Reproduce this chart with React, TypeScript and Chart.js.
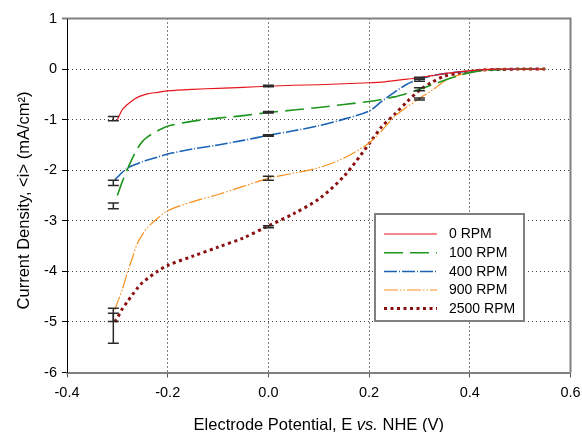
import React, { useEffect, useRef } from "react";
import { Chart, registerables } from "chart.js";
Chart.register(...registerables);

// Electrode potential (V vs. NHE)
const potential = [-0.305, -0.3, -0.29, -0.28, -0.27, -0.26, -0.25, -0.24, -0.22, -0.2, -0.15, -0.1, -0.05, 0, 0.05, 0.1, 0.15, 0.2, 0.225, 0.25, 0.275, 0.3, 0.325, 0.35, 0.375, 0.4, 0.425, 0.45, 0.5, 0.55];

// Current density (mA/cm2)
const rpm0 = [null, -1.0, -0.8, -0.7, -0.62, -0.56, -0.52, -0.49, -0.46, -0.43, -0.4, -0.38, -0.36, -0.34, -0.32, -0.31, -0.29, -0.27, -0.26, -0.23, -0.2, -0.17, -0.13, -0.09, -0.06, -0.03, -0.01, 0, 0, 0];
const rpm100 = [null, -2.5, -2.22, -1.98, -1.76, -1.57, -1.43, -1.34, -1.22, -1.13, -1.03, -0.97, -0.92, -0.86, -0.81, -0.76, -0.7, -0.64, -0.6, -0.55, -0.48, -0.4, -0.31, -0.22, -0.14, -0.07, -0.03, -0.01, 0, 0];
const rpm400 = [-2.19, -2.14, -2.04, -1.96, -1.91, -1.87, -1.83, -1.8, -1.74, -1.68, -1.58, -1.5, -1.41, -1.31, -1.22, -1.12, -0.99, -0.83, -0.64, -0.46, -0.3, -0.2, -0.13, -0.09, -0.06, -0.04, -0.02, -0.01, 0, 0];
const rpm900 = [-4.76, -4.62, -4.35, -4.02, -3.73, -3.44, -3.27, -3.13, -2.95, -2.8, -2.62, -2.48, -2.32, -2.16, -2.06, -1.95, -1.76, -1.46, -1.22, -0.94, -0.75, -0.58, -0.42, -0.24, -0.13, -0.07, -0.03, -0.01, 0, 0];
const rpm2500 = [-5.0, -4.92, -4.74, -4.6, -4.46, -4.33, -4.22, -4.14, -4.0, -3.88, -3.7, -3.52, -3.34, -3.1, -2.86, -2.57, -2.12, -1.48, -1.14, -0.9, -0.65, -0.42, -0.26, -0.14, -0.09, -0.05, -0.02, -0.01, 0, 0];

const seriesLabels = ["0 RPM", "100 RPM", "400 RPM", "900 RPM", "2500 RPM"];

// Error bars
const errPotential = [-0.308, -0.308, -0.308, -0.308, -0.308, 0, 0, 0, 0, 0, 0.3, 0.3, 0.3, 0.3];
const errHigh = [-0.94, -2.2, -2.65, -4.73, -4.83, -0.32, -0.84, -1.3, -2.12, -3.1, -0.16, -0.2, -0.37, -0.57];
const errLow = [-1.02, -2.3, -2.76, -4.99, -5.42, -0.35, -0.87, -1.33, -2.2, -3.14, -0.2, -0.24, -0.43, -0.61];

const FONT = "'Liberation Sans', Arial, Helvetica, sans-serif";

const styles = [
  { color: "#e8151b", width: 1.2, dash: [] as number[] },
  { color: "#1e961e", width: 1.6, dash: [19, 7] },
  { color: "#1a62b8", width: 1.6, dash: [13, 2, 1, 2] },
  { color: "#f7901e", width: 1.2, dash: [14, 2, 1.5, 2, 1.5, 2] },
  { color: "#8b0f0f", width: 3, dash: [3, 3.5] },
];

const allSeries = [rpm0, rpm100, rpm400, rpm900, rpm2500];

const decor = {
  id: "decor",
  afterDatasetsDraw(chart: any) {
    const { ctx, scales } = chart;
    const xs = scales.x, ys = scales.y;
    ctx.save();
    ctx.strokeStyle = "#2a2a2a";
    ctx.lineWidth = 1.5;
    ctx.setLineDash([]);
    for (let i = 0; i < errPotential.length; i++) {
      const px = xs.getPixelForValue(errPotential[i]);
      const y1 = ys.getPixelForValue(errHigh[i]);
      const y2 = ys.getPixelForValue(errLow[i]);
      ctx.beginPath();
      ctx.moveTo(px, y1);
      ctx.lineTo(px, y2);
      ctx.moveTo(px - 5.5, y1);
      ctx.lineTo(px + 5.5, y1);
      ctx.moveTo(px - 5.5, y2);
      ctx.lineTo(px + 5.5, y2);
      ctx.stroke();
    }
    ctx.restore();
  },
  afterDraw(chart: any) {
    const { ctx, chartArea } = chart;
    const { left, right, top, bottom } = chartArea;
    ctx.save();
    // top & right frame
    ctx.strokeStyle = "#808080";
    ctx.lineWidth = 2;
    ctx.setLineDash([]);
    ctx.beginPath();
    ctx.moveTo(left - 5, top);
    ctx.lineTo(right, top);
    ctx.lineTo(right, bottom);
    ctx.stroke();
    // left axis redraw on top
    ctx.strokeStyle = "#000";
    ctx.lineWidth = 1;
    ctx.beginPath();
    ctx.moveTo(Math.round(left) + 0.5, top + 1);
    ctx.lineTo(Math.round(left) + 0.5, bottom);
    ctx.stroke();

    // legend
    const bx = 375, by = 214, bw = 149, bh = 107;
    ctx.fillStyle = "#fff";
    ctx.fillRect(bx, by, bw, bh);
    ctx.strokeStyle = "#808080";
    ctx.lineWidth = 2;
    ctx.strokeRect(bx, by, bw, bh);
    ctx.font = `14px ${FONT}`;
    ctx.textBaseline = "middle";
    ctx.textAlign = "left";
    const rowY = [234, 252.7, 271.5, 290, 308.5];
    chart.data.datasets.forEach((ds: any, i: number) => {
      const y = rowY[i];
      ctx.save();
      ctx.strokeStyle = ds.borderColor;
      ctx.lineWidth = ds.borderWidth;
      ctx.setLineDash(ds.borderDash || []);
      ctx.beginPath();
      ctx.moveTo(384, y);
      ctx.lineTo(437, y);
      ctx.stroke();
      ctx.restore();
      ctx.fillStyle = "#000";
      ctx.fillText(ds.label, 449, y + 0.5);
    });

    // x title
    const tf = `16.5px ${FONT}`;
    const tfi = `italic 16.5px ${FONT}`;
    const parts = [
      { t: "Electrode Potential, E ", f: tf },
      { t: "vs.", f: tfi },
      { t: " NHE (V)", f: tf },
    ];
    let total = 0;
    parts.forEach((p) => { ctx.font = p.f; total += ctx.measureText(p.t).width; });
    let cx = (left + right) / 2 - total / 2;
    ctx.fillStyle = "#000";
    ctx.textBaseline = "alphabetic";
    parts.forEach((p) => {
      ctx.font = p.f;
      ctx.fillText(p.t, cx, 429.5);
      cx += ctx.measureText(p.t).width;
    });

    // y title
    ctx.save();
    ctx.translate(28.5, (top + bottom) / 2 + 5);
    ctx.rotate(-Math.PI / 2);
    ctx.font = tf;
    ctx.textAlign = "center";
    ctx.textBaseline = "alphabetic";
    ctx.fillText("Current Density, <i> (mA/cm\u00B2)", 0, 0);
    ctx.restore();

    ctx.restore();
  },
};

export default function App() {
  const ref = useRef<HTMLCanvasElement>(null);
  useEffect(() => {
    if (!ref.current) return;
    const datasets = allSeries.map((series, i) => ({
      label: seriesLabels[i],
      data: potential
        .map((x, j) => ({ x, y: series[j] }))
        .filter((p) => p.y !== null),
      borderColor: styles[i].color,
      borderWidth: styles[i].width,
      borderDash: styles[i].dash,
      borderCapStyle: "butt",
      pointRadius: 0,
      tension: 0.3,
      fill: false,
    }));
    const chart = new Chart(ref.current, {
      type: "line",
      data: { datasets },
      options: {
        animation: false,
        responsive: false,
        devicePixelRatio: 1,
        layout: { padding: { left: 0, top: 18.5, right: 11.5, bottom: 0 } },
        plugins: { legend: { display: false }, tooltip: { enabled: false } },
        scales: {
          x: {
            type: "linear",
            min: -0.4,
            max: 0.6,
            afterFit: (s: any) => { s.height = 59.5; s.paddingLeft = 0; s.paddingRight = 0; },
            ticks: {
              stepSize: 0.2,
              padding: 7,
              color: "#000",
              font: { family: FONT, size: 14.5 },
              callback: (v: any) => (Math.abs(v) < 1e-9 ? "0.0" : Number(v).toFixed(1)),
            },
            grid: {
              color: (c: any) => {
                const v = c.tick ? c.tick.value : 0;
                return v > -0.39 && v < 0.59 ? "#000" : "rgba(0,0,0,0)";
              },
              lineWidth: 1,
              tickLength: 5,
              tickColor: "#555",
              tickWidth: 1,
            },
            border: { display: true, color: "#808080", width: 2, dash: [1, 3] },
          },
          y: {
            type: "linear",
            min: -6,
            max: 1,
            afterFit: (s: any) => { s.width = 67; s.paddingTop = 0; s.paddingBottom = 0; },
            ticks: {
              stepSize: 1,
              padding: 5,
              color: "#000",
              font: { family: FONT, size: 14.5 },
              callback: (v: any) => String(Math.round(v)),
            },
            grid: {
              color: (c: any) => {
                const v = c.tick ? c.tick.value : 0;
                return v > -5.5 && v < 0.5 ? "#444" : "rgba(0,0,0,0)";
              },
              lineWidth: 1,
              tickLength: 5,
              tickColor: "#000",
              tickWidth: 1,
            },
            border: { display: true, color: "#000", width: 1, dash: [1, 3] },
          },
        },
      },
      plugins: [decor],
    } as any);
    return () => chart.destroy();
  }, []);
  return (
    <div style={{ position: "absolute", left: 0, top: 0, width: 582, height: 432 }}>
      <canvas ref={ref} width={582} height={432} style={{ display: "block" }} />
    </div>
  );
}
